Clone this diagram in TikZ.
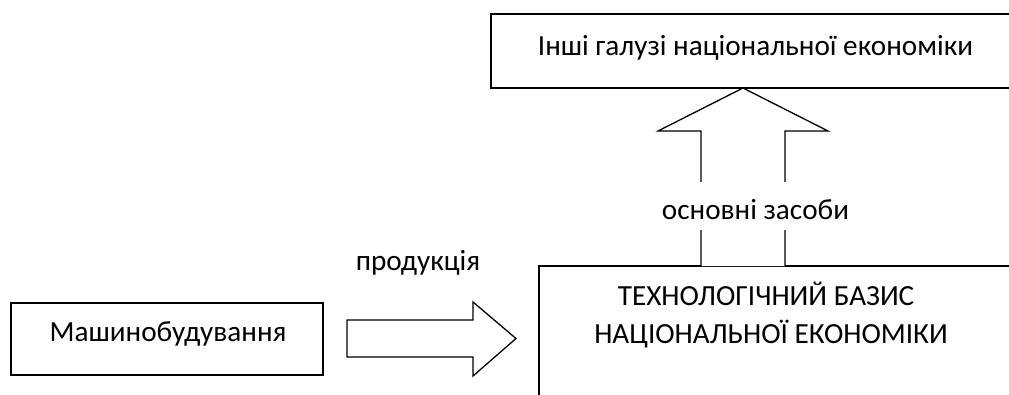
\documentclass[tikz,border=0pt]{standalone}
\usepackage{fontspec}
\setmainfont{Carlito}
\begin{document}
\begin{tikzpicture}[x=1pt,y=-1pt,
  line width=1.3pt,
  boxst/.style={draw=black, fill=white, line width=1.3pt},
  txt/.style={inner sep=0pt, font=\fontsize{29.2}{38.5}\selectfont, anchor=base},
  blockarrow/.style={draw=black, fill=white, line width=1.3pt, line join=miter}]
\useasboundingbox (0,0) rectangle (1009,394);
\clip (0,0) rectangle (1009,394);
% boxes
\draw[boxst] (11,303) rectangle (323,375);
\node[inner sep=0pt, minimum width=312pt, minimum height=72pt] (mach) at (167,339) {};
\draw[boxst] (491,14) rectangle (1016,88);
\node[inner sep=0pt, minimum width=525pt, minimum height=74pt] (other) at (753.5,51) {};
\draw[boxst] (539,266) rectangle (1020,420);
\coordinate (basisNW) at (539,266);
% texts
\node[txt] (machtxt) at (168,341) {Машинобудування};
\node[txt] (othertxt) at (755.5,55) {Інші галузі національної економіки};
\node[txt] (basis1) at (766,305) {ТЕХНОЛОГІЧНИЙ БАЗИС};
\node[txt] (basis2) at (771,343) {НАЦІОНАЛЬНОЇ ЕКОНОМІКИ};
% right block arrow
\coordinate (rtip) at (516,338.5);
\draw[blockarrow] (347,320) -- (473,320) -- (473,302) -- (rtip) -- (473,376) -- (473,357) -- (347,357) -- cycle;
\node[txt] (prod) at (418,270) {продукція};
% up block arrow
\coordinate (utip) at (743,88);
\draw[blockarrow] (701,266) -- (701,131) -- (658,131) -- (utip) -- (828,131) -- (785,131) -- (785,266);
\node[txt, fill=white, text height=37pt, text depth=11pt] (osn) at (755.5,219) {основні засоби};
\end{tikzpicture}
\end{document}
